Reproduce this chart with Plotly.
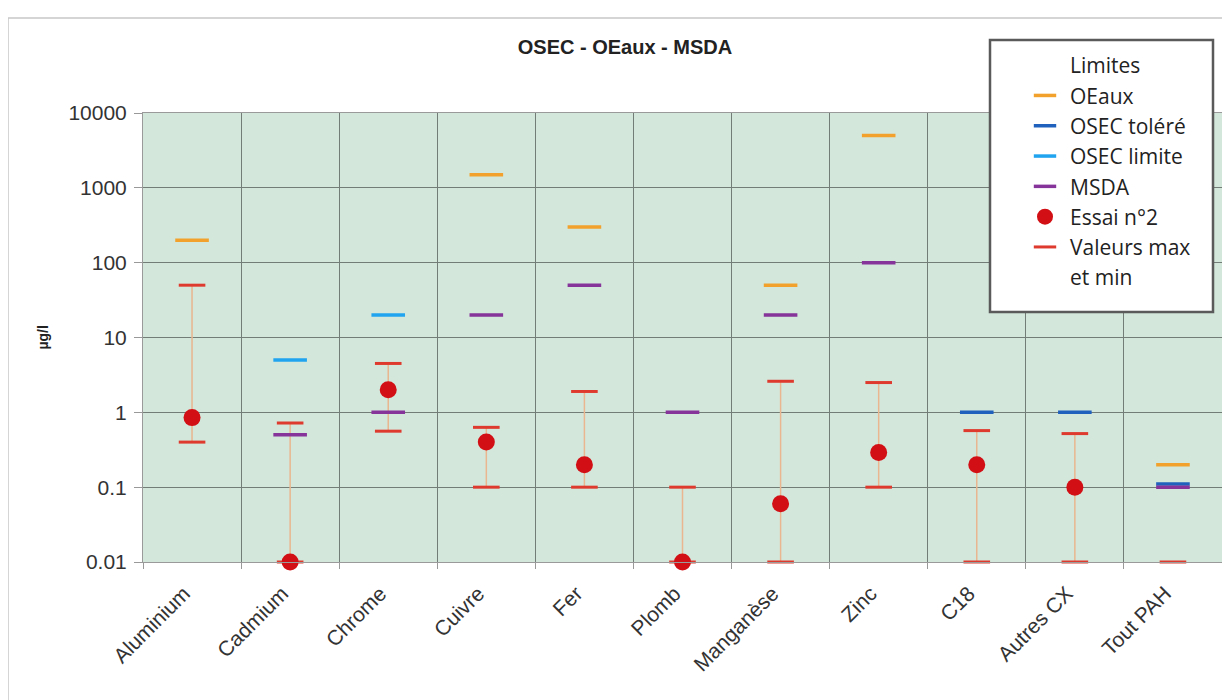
import plotly.graph_objects as go

categories = ["Aluminium", "Cadmium", "Chrome", "Cuivre", "Fer", "Plomb",
              "Manganèse", "Zinc", "C18", "Autres CX", "Tout PAH"]
oeaux       = [200, None, None, 1500, 300, None, 50, 5000, None, None, 0.2]
osec_tolere = [None, None, None, None, None, None, None, None, 1, 1, 0.11]
osec_limite = [None, 5, 20, None, None, None, None, None, None, None, None]
msda        = [None, 0.5, 1, 20, 50, 1, 20, 100, None, None, 0.1]
essai       = [0.85, 0.01, 2, 0.4, 0.2, 0.01, 0.06, 0.29, 0.2, 0.1, None]
val_max     = [50, 0.72, 4.5, 0.63, 1.9, 0.1, 2.6, 2.5, 0.57, 0.52, None]
val_min     = [0.4, 0.01, 0.56, 0.1, 0.1, 0.01, 0.01, 0.1, 0.01, 0.01, 0.01]

ytick_vals = [0.01, 0.1, 1, 10, 100, 1000, 10000]
ytick_text = ["0.01", "0.1", "1", "10", "100", "1000", "10000"]

FONT = "Liberation Sans, Arial, sans-serif"
LEG_FONT = "Open Sans, sans-serif"

# figure frame (page body adds an 8px offset)
W, H = 1222, 692
L, R, T, B = 135, 8, 105, 138
PW, PH = W - L - R, H - T - B


def px_x(x):
    return (x - L) / PW


def px_y(y):
    return (H - B - y) / PH


# connecting vertical lines (min -> max)
lx, ly = [], []
for c, lo, hi in zip(categories, val_min, val_max):
    if lo is not None and hi is not None:
        lx += [c, c, None]
        ly += [lo, hi, None]

fig = go.Figure()

fig.add_trace(go.Scatter(x=lx, y=ly, mode="lines", line=dict(color="#e9b68f", width=1.5),
                         showlegend=False, hoverinfo="skip", cliponaxis=False))
fig.add_trace(go.Scatter(x=categories + categories, y=val_max + val_min, mode="markers",
                         name="Valeurs max", legendrank=7,
                         marker=dict(symbol="line-ew", size=19,
                                     line=dict(color="#df3a2e", width=3)),
                         cliponaxis=False))


def limit_trace(name, vals, color, rank):
    return go.Scatter(x=categories, y=vals, mode="markers", name=name, legendrank=rank,
                      marker=dict(symbol="line-ew", size=24,
                                  line=dict(color=color, width=3.5)),
                      cliponaxis=False)


fig.add_trace(go.Scatter(x=[None], y=[None], mode="markers", name="Limites", legendrank=1,
                         marker=dict(color="rgba(0,0,0,0)", size=1)))
fig.add_trace(limit_trace("OEaux", oeaux, "#f2a22c", 2))
fig.add_trace(limit_trace("OSEC toléré", osec_tolere, "#2061bd", 3))
fig.add_trace(limit_trace("OSEC limite", osec_limite, "#21a4ef", 4))
fig.add_trace(limit_trace("MSDA", msda, "#86339a", 5))
fig.add_trace(go.Scatter(x=categories, y=essai, mode="markers", name="Essai n°2", legendrank=6,
                         marker=dict(symbol="circle", size=17, color="#d20f14"),
                         cliponaxis=False))
fig.add_trace(go.Scatter(x=[None], y=[None], mode="markers", name="et min", legendrank=8,
                         marker=dict(color="rgba(0,0,0,0)", size=1)))

GRID = "#737d77"

fig.update_layout(
    width=W, height=H,
    margin=dict(l=L, r=R, t=T, b=B),
    paper_bgcolor="white",
    plot_bgcolor="#d3e7db",
    font=dict(family=FONT, color="#333333"),
    title=dict(text="<b>OSEC - OEaux - MSDA</b>", font=dict(size=20, color="#222222", family=FONT),
               xref="paper", x=px_x(617), xanchor="center", yref="container", y=1 - 39 / H,
               yanchor="middle"),
    legend=dict(x=px_x(1012), y=px_y(37), xanchor="left", yanchor="top",
                bgcolor="rgba(0,0,0,0)", borderwidth=0,
                font=dict(family=LEG_FONT, size=21, color="#222222"),
                traceorder="normal", tracegroupgap=0, itemwidth=40),
    showlegend=True,
    xaxis=dict(type="category", categoryorder="array", categoryarray=categories,
               tickson="boundaries", ticks="outside", ticklen=6, tickcolor="#999999",
               showgrid=True, gridcolor=GRID, gridwidth=1,
               showline=True, linecolor="#9a9a9a", mirror=True,
               tickangle=-45, tickfont=dict(size=21, color="#333333", family=FONT),
               ticklabelstandoff=10, ticklabelshift=-8,
               range=[-0.5, len(categories) - 0.5]),
    yaxis=dict(type="log", range=[-2, 4], tickvals=ytick_vals, ticktext=ytick_text,
               ticks="outside", ticklen=8, tickcolor="#999999",
               showgrid=True, gridcolor=GRID, gridwidth=1,
               showline=True, linecolor="#9a9a9a", mirror=True,
               ticklabelstandoff=3,
               tickfont=dict(size=21, color="#333333", family=FONT)),
    annotations=[dict(text="<b>µg/l</b>", xref="paper", yref="paper",
                      x=px_x(34), y=0.5, xanchor="center", yanchor="middle",
                      textangle=-90, showarrow=False,
                      font=dict(size=14, color="#222222", family=FONT))],
    shapes=[
        dict(type="rect", xref="paper", yref="paper", layer="below",
             x0=px_x(0), x1=px_x(1220), y0=px_y(697), y1=px_y(10),
             line=dict(color="#c8c8c8", width=1.5), fillcolor="rgba(0,0,0,0)"),
        dict(type="rect", xref="paper", yref="paper", layer="above",
             x0=px_x(982), x1=px_x(1205), y0=px_y(304), y1=px_y(32),
             line=dict(color="#5a5a5a", width=2.5), fillcolor="white"),
    ],
)

fig.write_html("out.html")
